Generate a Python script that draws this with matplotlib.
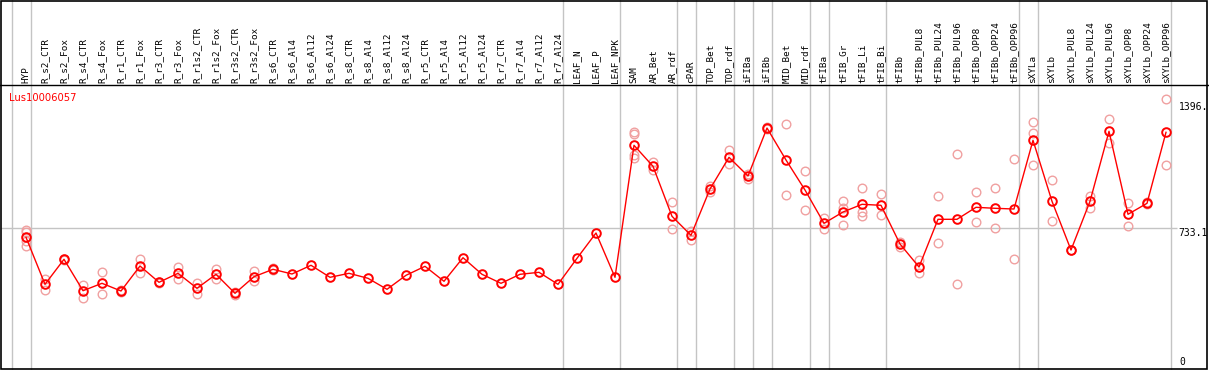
import numpy as np
import matplotlib
matplotlib.use("Agg")
import matplotlib.pyplot as plt
from matplotlib.lines import Line2D
from matplotlib.patches import Rectangle

title = "Lus10006057"

categories = [
    "HYP", "R_s2_CTR", "R_s2_Fox", "R_s4_CTR", "R_s4_Fox", "R_r1_CTR", "R_r1_Fox",
    "R_r3_CTR", "R_r3_Fox", "R_r1s2_CTR", "R_r1s2_Fox", "R_r3s2_CTR", "R_r3s2_Fox",
    "R_s6_CTR", "R_s6_Al4", "R_s6_Al12", "R_s6_Al24", "R_s8_CTR", "R_s8_Al4",
    "R_s8_Al12", "R_s8_Al24", "R_r5_CTR", "R_r5_Al4", "R_r5_Al12", "R_r5_Al24",
    "R_r7_CTR", "R_r7_Al4", "R_r7_Al12", "R_r7_Al24", "LEAF_N", "LEAF_P", "LEAF_NPK",
    "SAM", "AR_Bet", "AR_rdf", "cPAR", "TOP_Bet", "TOP_rdf", "iFIBa", "iFIBb",
    "MID_Bet", "MID_rdf", "tFIBa", "tFIB_Gr", "tFIB_Li", "tFIB_Bi", "tFIBb",
    "tFIBb_PUL8", "tFIBb_PUL24", "tFIBb_PUL96", "tFIBb_OPP8", "tFIBb_OPP24",
    "tFIBb_OPP96", "sXYLa", "sXYLb", "sXYLb_PUL8", "sXYLb_PUL24", "sXYLb_PUL96",
    "sXYLb_OPP8", "sXYLb_OPP24", "sXYLb_OPP96",
]

means = [
    684.5, 439.3, 569.8, 405.9, 444.5, 404.4, 534.8, 449.8, 496.7, 418.4, 491.5,
    392.4, 479.0, 517.6, 493.1, 538.5, 475.8, 496.7, 470.6, 413.2, 486.3, 533.2,
    455.0, 578.1, 491.5, 444.5, 491.5, 501.9, 439.3, 575.0, 707.0, 475.8,
    1164.6, 1055.0, 794.1, 695.0, 936.6, 1102.0, 1004.4, 1254.8, 1087.9, 931.3,
    757.6, 816.5, 856.7, 851.5, 649.6, 529.6, 778.5, 778.5, 841.1, 835.9, 832.2,
    1190.7, 872.4, 618.3, 872.4, 1237.6, 804.6, 861.9, 1232.4,
]

replicates = [
    [725.2, 712.2, 665.2, 639.2], [467.0, 412.0], [572.0, 567.0], [435.7, 369.4],
    [503.5, 387.1], [409.6, 399.1], [569.8, 496.7], [452.0, 447.0], [529.6, 465.4],
    [447.7, 387.1], [519.2, 465.4], [400.7, 383.5], [508.7, 456.5], [522.0, 513.0],
    [], [], [], [], [], [], [], [], [], [], [], [], [], [], [], [], [], [],
    [1235.5, 1223.5, 1113.9, 1096.7], [1079.0, 1035.7], [868.7, 726.3], [717.4, 668.9],
    [952.2, 919.3], [1138.5, 1065.4], [1014.8, 988.7], [1261.6, 1248.1],
    [1275.7, 903.7], [1030.5, 827.0], [783.7, 726.3], [873.9, 835.9, 747.2],
    [941.8, 815.0, 795.7], [908.9, 799.3], [661.6, 635.5], [566.1, 496.7],
    [898.5, 653.2], [1117.6, 439.3], [919.3, 762.8], [940.2, 731.5], [1091.5, 569.8],
    [1284.6, 1227.2, 1060.2], [982.0, 768.0], [620.0, 616.0], [900.0, 839.0],
    [1300.2, 1175.0], [865.1, 743.5], [867.2, 856.7], [1405.0, 1060.0],
]

# group separators (after these category indices)
separators_after = [-1, 0, 28, 31, 34, 35, 37, 38, 39, 41, 42, 45, 52, 53, 60]

grid_value = 733.1
axis_labels = ["1396.", "733.1", "0"]

W, H = 1209, 370
fig = plt.figure(figsize=(W / 100, H / 100), dpi=100)

ax_top_px, ax_bot_px = 85, 368.5
ax_left_px, ax_right_px = 1, 1208
ax = fig.add_axes([ax_left_px / W, (H - ax_bot_px) / H,
                   (ax_right_px - ax_left_px) / W, (ax_bot_px - ax_top_px) / H])
ax.set_axis_off()

x0_px, step_px = 26, 19
ax.set_xlim((ax_left_px - x0_px) / step_px, (ax_right_px - x0_px) / step_px)
px_per_unit = (368.5 - 228) / 733.1
ax.set_ylim(0, (ax_bot_px - ax_top_px) / px_per_unit)

gray = "#c4c4c4"
xs = np.arange(len(categories))

# vertical separators extending into label area
ymax_frac = ax_bot_px / (ax_bot_px - ax_top_px)
for s in separators_after:
    ax.axvline(s + 0.26, ymin=0, ymax=ymax_frac, color=gray, lw=1.0, clip_on=False, zorder=1)

# horizontal grid at 733.1
ax.hlines(grid_value, ax.get_xlim()[0], (1177 - x0_px) / step_px, color=gray, lw=1.0, zorder=1)

# replicates
for i, reps in enumerate(replicates):
    if reps:
        ax.plot([i] * len(reps), reps, linestyle="none", marker="o", ms=6.2,
                mfc="none", mec="#f0a0a0", mew=1.0, zorder=2, clip_on=False)

# mean line and markers
ax.plot(xs, means, color="#ff0000", lw=1.0, zorder=3)
ax.plot(xs, means, linestyle="none", marker="o", ms=6.2, mfc="none",
        mec="#ff0000", mew=1.4, zorder=4)

# category labels
for i, c in enumerate(categories):
    ax.annotate(c, xy=(i, 1), xycoords=("data", "axes fraction"),
                xytext=(0, 1.8), textcoords="offset points", rotation=90,
                ha="center", va="bottom", fontsize=6.7, family="DejaVu Sans Mono",
                color="black")

# title
fig.text(9 / W, 1 - 101 / H, title, color="#ff0000", fontsize=7.2,
         family="DejaVu Sans", ha="left", va="baseline")

# right axis labels
for lab, ypx, xpx in zip(axis_labels, [107, 232.7, 362.3], [1179, 1178, 1179]):
    fig.text(xpx / W, 1 - ypx / H, lab, fontsize=7.0, family="DejaVu Sans Mono",
             ha="left", va="center", color="black")

# borders
fig.add_artist(Line2D([0, 1], [1 - 85 / H, 1 - 85 / H], transform=fig.transFigure,
                      color="black", lw=1.0))
fig.add_artist(Rectangle((1 / W, 1.0 / H), 1206 / W, 368.5 / H, transform=fig.transFigure,
                         fill=False, edgecolor="black", lw=1.2))

fig.savefig("out.png", dpi=100)
